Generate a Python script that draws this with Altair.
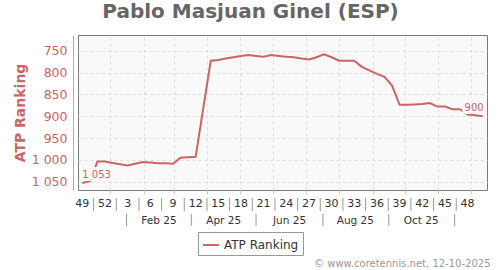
import altair as alt
import pandas as pd

RED = "#cd6464"
BG = "#f9f9f9"
TITLE = "Pablo Masjuan Ginel (ESP)"
SERIES = "ATP Ranking"
CREDITS = "\u00a9 www.coretennis.net, 12-10-2025"

# weekly ATP ranking (one value per week, starting at week 49 of 2024)
first_week = "2024-12-06"
ranking = [1053, 1049, 1004, 1004, 1007, 1010, 1013, 1009, 1005, 1006,
           1008, 1008, 1009, 995, 994, 993, None, 773, 771, 768,
           765, 762, 760, 762, 764, 760, 762, 764, 765, 768,
           770, 765, 758, 765, 773, 773, 773, 787, 795, 803,
           810, 830, 874, 874, 873, 872, 870, 878, 878, 884,
           884, 896, 898, 900]

week_labels = ["49", "52", "3", "6", "9", "12", "15", "18", "21", "24",
               "27", "30", "33", "36", "39", "42", "45", "48"]
week_label_dates = ["2024-12-06", "2024-12-27", "2025-01-17", "2025-02-07",
                    "2025-02-28", "2025-03-21", "2025-04-11", "2025-05-02",
                    "2025-05-23", "2025-06-13", "2025-07-04", "2025-07-25",
                    "2025-08-15", "2025-09-05", "2025-09-26", "2025-10-17",
                    "2025-11-07", "2025-11-28"]
month_starts = ["2025-01-01", "2025-02-01", "2025-03-01", "2025-04-01",
                "2025-05-01", "2025-06-01", "2025-07-01", "2025-08-01",
                "2025-09-01", "2025-10-01", "2025-11-01", "2025-12-01"]
month_labels = ["Feb 25", "Apr 25", "Jun 25", "Aug 25", "Oct 25"]
month_label_dates = ["2025-02-15", "2025-04-16", "2025-06-16",
                     "2025-08-16", "2025-10-16"]
month_sep_dates = ["2025-01-16", "2025-03-17", "2025-05-16",
                   "2025-07-17", "2025-09-16", "2025-11-16"]
y_ticks = [750, 800, 850, 900, 950, 1000, 1050]
x_domain = [-30, 349]   # days relative to 2025-01-01
y_domain = [714, 1069]

ORIGIN = pd.Timestamp("2025-01-01")


def days(dates):
    return [float((pd.Timestamp(s) - ORIGIN).days) for s in dates]


W, H = 409, 155

line_dates = pd.date_range(first_week, periods=len(ranking), freq="7D")
df = pd.DataFrame({"d": days(line_dates), "rank": ranking, "series": SERIES}).dropna()
df["label"] = [f"{int(v):,}".replace(",", " ") for v in df["rank"]]

wk_d = days(week_label_dates)
wk_df = pd.DataFrame({"d": wk_d, "label": week_labels})
wsep_df = pd.DataFrame({"d": [(a + b) / 2 for a, b in zip(wk_d[:-1], wk_d[1:])]})
mo_df = pd.DataFrame({"d": days(month_label_dates), "label": month_labels})
msep_df = pd.DataFrame({"d": days(month_sep_dates)})

X = alt.X("d:Q",
          scale=alt.Scale(domain=x_domain, nice=False, zero=False),
          axis=alt.Axis(values=days(month_starts), tickCount=50,
                        labels=False, grid=True,
                        gridDash=[3, 3], gridColor="#dddddd", ticks=True,
                        tickSize=4, tickColor="#cccccc", domain=False,
                        title=CREDITS, titleX=412, titleY=76,
                        titleAlign="right", titleBaseline="alphabetic",
                        titleFontSize=10, titleFontWeight="normal",
                        titleColor="#999999"))
Y = alt.Y("rank:Q",
          scale=alt.Scale(domain=y_domain, reverse=True, nice=False, zero=False),
          axis=alt.Axis(values=y_ticks, tickCount=50,
                        labelExpr="replace(format(datum.value, ','), ',', ' ')",
                        labelOverlap=False,
                        grid=True, gridDash=[3, 3], gridColor="#dddddd",
                        ticks=False, tickSize=0, labelPadding=6,
                        labelFontSize=12.5, labelColor=RED,
                        domain=True, domainColor="#dd9999", offset=5,
                        title=SERIES, titleFontSize=14, titleFontWeight="bold",
                        titleColor=RED, titlePadding=4))

line = alt.Chart(df).mark_line(strokeWidth=2).encode(
    x=X, y=Y,
    color=alt.Color("series:N", scale=alt.Scale(range=[RED]),
                    legend=alt.Legend(title=None, orient="none", legendX=120,
                                      legendY=197, strokeColor="#999999",
                                      fillColor="white", padding=4,
                                      symbolType="stroke", symbolSize=256,
                                      symbolStrokeWidth=2, labelFontSize=12,
                                      labelColor="#333333", labelOffset=4)))


def data_label(sub, align, dx):
    base = alt.Chart(sub).encode(x="d:Q", y="rank:Q", text="label:N")
    halo = base.mark_text(align=align, baseline="alphabetic", dx=dx, dy=-5,
                          fontSize=10, fill=BG, stroke=BG, strokeWidth=6)
    txt = base.mark_text(align=align, baseline="alphabetic", dx=dx, dy=-5,
                         fontSize=10, color=RED)
    return halo + txt


first_lab = data_label(df.iloc[[0]], "left", 0)
last_lab = data_label(df.iloc[[-1]], "right", 1)

wk_text = alt.Chart(wk_df).mark_text(fontSize=11, color="#333333",
                                     baseline="alphabetic").encode(
    x="d:Q", y=alt.value(H + 17), text="label:N")
wk_sep = alt.Chart(wsep_df).mark_rule(color="#999999", strokeWidth=1).encode(
    x="d:Q", y=alt.value(H + 8), y2=alt.value(H + 21))
mo_text = alt.Chart(mo_df).mark_text(fontSize=10.5, color="#333333",
                                     baseline="alphabetic").encode(
    x="d:Q", y=alt.value(H + 34), text="label:N")
mo_sep = alt.Chart(msep_df).mark_rule(color="#999999", strokeWidth=1).encode(
    x="d:Q", y=alt.value(H + 24), y2=alt.value(H + 36))

chart = alt.layer(line, first_lab, last_lab, wk_text, wk_sep, mo_text, mo_sep).properties(
    width=W, height=H,
    autosize=alt.AutoSizeParams(type="none"),
    padding={"left": 78, "top": 35, "right": 13, "bottom": 80},
    title=alt.TitleParams(TITLE, fontSize=20, fontWeight="bold", color="#666666",
                          anchor="middle", dx=-32, dy=17, offset=14,
                          baseline="alphabetic"),
).configure(font="DejaVu Sans").configure_view(
    fill=BG, stroke="#7a7a7a", strokeWidth=1)

chart.save("out.html", embed_options={"renderer": "svg", "actions": False})
